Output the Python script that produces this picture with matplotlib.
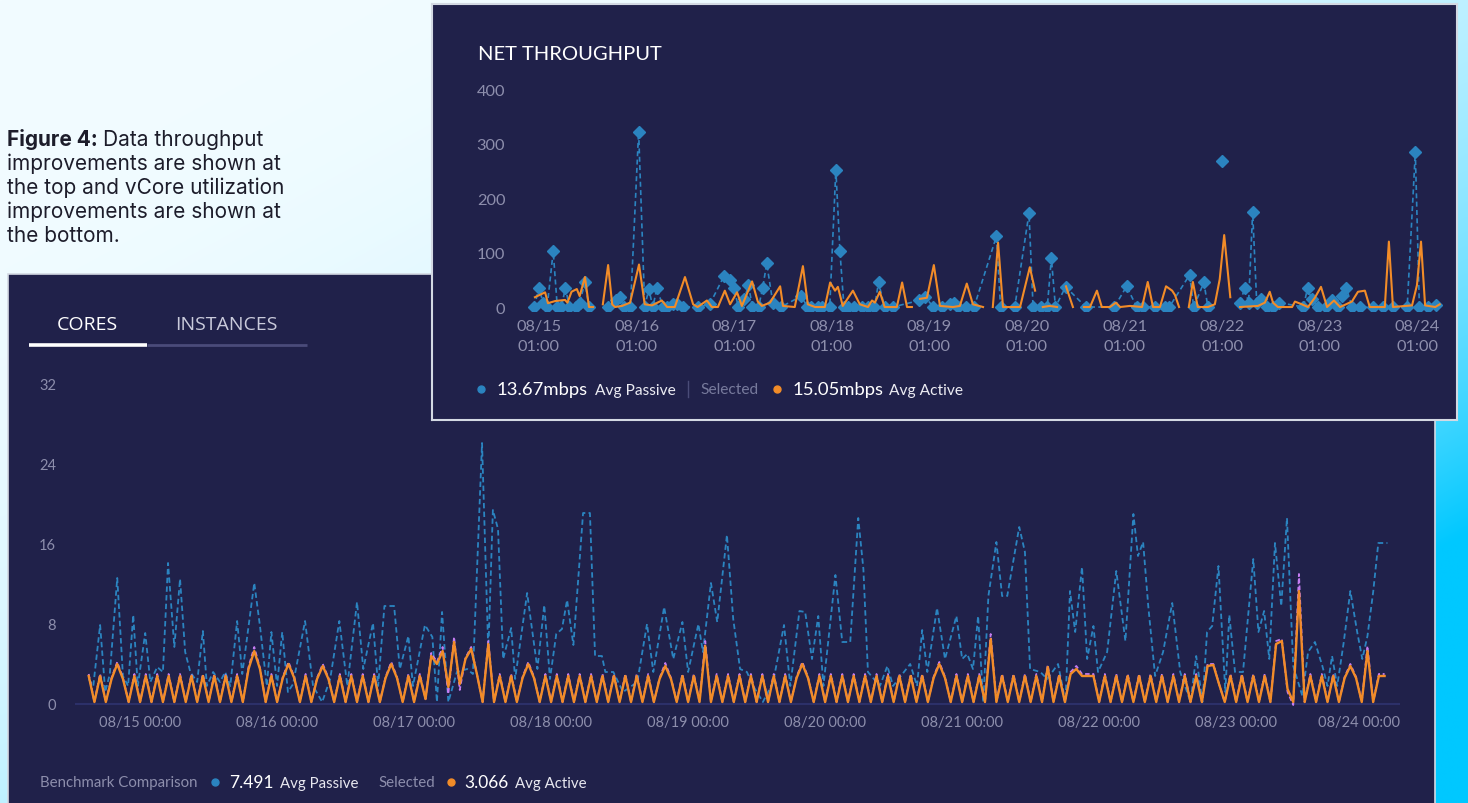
import numpy as np
import matplotlib.pyplot as plt
from matplotlib.patches import Rectangle
from matplotlib.transforms import ScaledTranslation

nan = np.nan
W, H = 1468, 804

NAVY = '#20214a'
BLUE = '#2b84c0'
ORANGE = '#f28c28'
PURPLE = '#c57cf2'
GRAY = '#8d8eac'
BORDER = '#d3d9e3'

plt.rcParams['font.family'] = ['Lato', 'DejaVu Sans']

# ---- NET THROUGHPUT (hours since 08/15 00:00) ----
TOP_TICK_HOURS = [1, 25, 49, 73, 97, 121, 145, 169, 193, 217]
TOP_TICK_LABELS = ['08/15\n01:00', '08/16\n01:00', '08/17\n01:00', '08/18\n01:00',
                   '08/19\n01:00', '08/20\n01:00', '08/21\n01:00', '08/22\n01:00',
                   '08/23\n01:00', '08/24\n01:00']
TOP_YTICKS = [0, 100, 200, 300, 400]

TOP_PASSIVE_H = [-0.2, 1, 2, 3, 4.5, 5.5, 6.5, 7.5, 8.5, 10, 11, 12.3, 13.3, 15,
                 18, 20, 21, 22, 23.5, 25.5, 27, 28, 29, 30, 31.5, 32.5, 34, 35, 36.5, 40,
                 43, 46.5, 48, 49, 50, 51.5, 52.5, 53.5, 55, 56, 57, 58.5, 60.5, 65.5, 67,
                 68, 69.5, 70.5, 72.5, 74, 75, 76, 77, 78.5, 80.5, 82, 83.5, 84.5, 86, 88,
                 94.5, 96, 98, 100, 102, 103, 104, 106, 108, 113.5, 114.5, 118, 121.5,
                 122.5, 124.5, 126, 127, 128, 130.5, 135.5, 142.5, 145.5, 148, 149.5,
                 152.5, 155, 156, 161, 162, 164.5, 165.5, 167, 169, 171, 173.5, 174.5,
                 175.5, 176.5, 177.5, 178.5, 180, 181.5, 183, 189, 190, 191, 192.5, 194.5,
                 196, 197.5, 198.5, 199.5, 201, 203, 206, 208.5, 211, 214.5, 216.5, 217.5,
                 219.5, 221.5]
TOP_PASSIVE_V = [0, 35, 8, 0, 102, 0, 0, 35, 0, 0, 8, 45, 0, nan,
                 0, 12, 18, 0, 0, 322, 0, 33, 0, 35, 0, 0, 5, 5, 0, 0, 5, 57, 50, 35, 0,
                 15, 40, 0, 0, 35, 80, 8, 0, 20, 0, 0, 0, 0, 0, 252, 103, 0, 0, 0, 0, 0,
                 0, 45, 0, 0, 12, 18, 0, 0, 5, 8, 0, 0, 0, 130, 0, 0, 172, 0, 0, 0, 90, 0,
                 37, 0, 0, 38, 0, 0, 0, 0, 0, 59, 0, 45, 0, nan, 267, nan, 8, 35, 8, 174,
                 8, 15, 0, 0, 8, 0, 35, 15, 0, 0, 12, 0, 20, 35, 0, 0, 0, 0, 0, 0, 284, 0,
                 0, 3]

TOP_ACTIVE_H = [0, 2.5, 3.2, 5, 7.4, 8, 9, 10.3, 11, 12.3, 13.3, 14.3, 15.5,
                16.7, 18, 19, 19.7, 21.4, 23.4, 25.6, 27, 28.8, 31.2, 32.5, 34.4, 36.9,
                38.9, 40, 42.3, 43.5, 45, 46.7, 48, 49.7, 50.9, 53.4, 54.8, 55.8, 57.8,
                60.3, 61, 63.9, 65.9, 67.1, 68.9, 71.3, 72.6, 73.8, 74.5, 75.7, 78.2,
                79.9, 81.9, 82.9, 83.6, 84.8, 86, 89, 90.3, 91.5, 92.7, 93.7,
                94.7, 96.4, 98.1, 99.6, 102.8, 104.5, 106.2, 107.7, 110.2, 111.4,
                112.6, 113.9, 115.1, 119.3, 121.7, 123, 124,
                124.9, 126.6, 128.4, 129.5,
                130.6, 132.3, 133.6,
                135, 136.5, 138.2, 139.4, 141.4, 142.9, 143.9, 146.3, 149.3, 150.7, 152,
                153.7, 155.2, 156.7, 157.4, 158.4, 159.6,
                160.8, 161.8, 163, 165.5, 167.2, 168.4, 169.5, 171, 172.2,
                173.4, 177.8, 179.5, 180.7, 181.5, 182.7, 186.2, 186.9, 188.6, 190.1,
                191.8, 193.3, 194.8, 196.5, 198, 200.9, 202.4, 204.1, 205.3, 209, 210,
                211, 215.7, 216.9, 217.9, 218.9, 221.4, 222.5]
TOP_ACTIVE_V = [18, 27, 7, 11, 13, 8, 28, 33, 20, 55, 0, 0, nan,
                5, 77, 5, 0, 2, 8, 78, 5, 3, 12, 0, 0, 55, 5, 0, 12, 0, 0, 30, 5, 27, 2,
                47, 10, 2, 8, 38, 2, 0, 75, 5, 0, 0, 45, 30, 37, 2, 30, 5, 0, 12, 8, 28,
                0, 0, 45, 0, 0, nan,
                15, 17, 77, 2, 0, 2, 43, 5, 0, nan,
                0, 118, 0, 0, 73, 30, nan,
                0, 2, 0, nan,
                38, 0, nan,
                0, 0, 30, 0, 0, 8, 0, 2, 0, 46, 0, 0, 38, 30, 22, 0, nan,
                0, 46, 0, 0, 5, 51, 132, 18, nan,
                0, 2, 8, 28, 8, 0, 0, 10, 5, 0, 17, 37, 0, 12, 0, 10, 28, 30, 0, 0, 120,
                0, 3, 40, 120, 3, 0, 5]

# ---- CORES (hours since 08/15 00:00) ----
BOT_TICK_HOURS = [0, 24, 48, 72, 96, 120, 144, 168, 192, 216]
BOT_TICK_LABELS = ['08/15 00:00', '08/16 00:00', '08/17 00:00', '08/18 00:00',
                   '08/19 00:00', '08/20 00:00', '08/21 00:00', '08/22 00:00',
                   '08/23 00:00', '08/24 00:00']
BOT_YTICKS = [0, 8, 16, 24, 32]

BOT_PASSIVE_H = [-9, -8.2, -7, -6.1, -5.3, -4, -3, -2.1, -1.2, -0.4,
                 0.9, 1.8, 3, 4, 4.9, 6, 7, 7.9, 8.8, 10,
                 11, 11.7, 12.8, 14, 14.9, 15.8, 17, 17.9, 20, 21,
                 22.2, 23, 24, 24.9, 25.9, 26.8, 28.9, 30.3, 31.9, 33.3,
                 34.9, 36.3, 38, 39.1, 40.8, 41.7, 42.8, 44.5, 45.5, 47,
                 47.8, 49.9, 51.2, 52, 52.9, 54, 55.5, 57.3, 58.3, 59.9,
                 61, 61.8, 62.7, 63.6, 65, 65.7, 67.8, 69.6, 70.8, 71.8,
                 72.9, 73.9, 74.8, 75.9, 77.6, 78.8, 79.7, 80.9, 81.5, 82.9,
                 84.6, 87.1, 88.8, 89.9, 91.8, 93.4, 95, 96, 97.8, 98.6,
                 100, 101.1, 102.8, 103.9, 105.1, 106.3, 107.4, 109.1, 110.9, 112.8,
                 113.9, 115.5, 116.5, 117.7, 118.8, 119.7, 121.8, 123, 124.4, 125.8,
                 126.7, 127.5, 129.6, 130.9, 131.9, 134.9, 136.1, 137, 137.9, 139.6,
                 141, 143, 144, 144.9, 145.9, 146.8, 147.7, 148.6, 150, 151,
                 151.9, 154, 155, 155.9, 157.7, 158.9, 160.8, 162.1, 162.9, 163.8,
                 165, 165.9, 167, 167.8, 169.4, 171, 172.6, 174, 174.8, 175.7,
                 176.6, 177.8, 179.2, 180.8, 182.2, 184, 185, 186.1, 186.9, 187.8,
                 188.9, 190.1, 190.8, 191.8, 193.2, 195, 195.9, 196.9, 197.8, 198.8,
                 199.9, 200.9, 202, 203.6, 204.6, 205.8, 207.1, 208, 208.8, 209.7,
                 210.8, 212, 213.2, 214.1, 215, 216, 216.9, 218.5]
BOT_PASSIVE_V = [2.5, 1.8, 7.9, 1.2, 3.0, 12.6, 2.8, 1.8, 8.9, 1.8,
                 7.1, 2.2, 3.7, 3.2, 14.1, 5.7, 12.5, 5.2, 3.2, 2.2,
                 7.3, 1.8, 3.2, 2.2, 3.2, 1.8, 8.3, 3.0, 12.1, 7.8,
                 1.8, 7.2, 1.8, 7.2, 1.2, 2.0, 8.3, 1.8, 0.2, 2.5,
                 8.3, 1.8, 10.2, 3.5, 8.1, 1.8, 9.8, 9.8, 3.5, 6.8,
                 1.8, 7.9, 6.7, 0.2, 9.2, 0.2, 3.2, 3.5, 3.0, 26.1,
                 5.2, 19.4, 17.5, 4.5, 7.6, 2.5, 11.1, 3.5, 9.9, 2.5,
                 7.0, 7.5, 10.4, 5.9, 19.1, 19.1, 4.8, 4.8, 3.2, 3.2,
                 1.2, 2.2, 8.0, 3.2, 9.7, 4.5, 8.2, 3.2, 8.0, 5.2,
                 12.1, 8.2, 16.9, 8.5, 3.5, 3.2, 1.8, 0.2, 2.2, 7.9,
                 1.8, 9.3, 9.2, 4.5, 8.8, 1.8, 12.9, 6.2, 6.2, 18.6,
                 13.5, 3.2, 1.8, 3.8, 1.8, 4.0, 1.8, 7.4, 3.2, 9.6,
                 4.5, 8.8, 4.5, 5.0, 3.5, 8.8, 0.2, 10.8, 16.2, 10.8,
                 10.8, 17.7, 15.2, 3.5, 3.2, 2.5, 4.0, 0.2, 11.3, 7.2,
                 13.7, 4.5, 7.8, 3.2, 5.2, 13.3, 6.3, 19.0, 14.8, 16.2,
                 9.8, 2.8, 5.2, 10.1, 3.2, 0.2, 4.8, 0.2, 7.2, 7.8,
                 13.8, 1.2, 8.9, 3.2, 3.2, 14.5, 7.2, 9.3, 4.5, 16.1,
                 9.8, 18.6, 3.8, 0.8, 5.2, 6.2, 3.8, 1.8, 4.8, 1.8,
                 6.0, 11.3, 7.2, 4.5, 6.8, 11.2, 16.1, 16.1]

# hourly samples, 08/14 15:00 .. 08/24 02:00
BOT_ACTIVE_H = np.arange(-9, 219)
BOT_ACTIVE_V = [2.8, 0.2, 2.8, 0.2, 2.5, 4.0, 2.5, 0.2, 2.8, 0.2, 2.8, 0.2,
                2.8, 0.2, 2.8, 0.2, 2.8, 0.2, 2.8, 0.2, 2.8, 0.2, 2.8, 0.2,
                2.8, 0.2, 2.8, 0.2, 3.5, 5.3, 3.5, 0.2, 2.8, 0.2, 2.6, 4.0,
                2.6, 0.2, 2.8, 0.2, 2.5, 3.8, 2.5, 0.2, 2.8, 0.2, 2.8, 0.2,
                2.8, 0.2, 2.8, 0.2, 2.6, 4.0, 2.6, 0.2, 2.8, 0.2, 2.8, 0.5,
                4.8, 4.0, 5.3, 1.7, 6.2, 2.0, 4.5, 5.5, 3.0, 0.2, 6.0, 0.2,
                2.8, 0.2, 2.8, 0.2, 2.6, 4.0, 2.6, 0.2, 2.8, 0.2, 2.8, 0.2,
                2.8, 0.2, 2.8, 0.2, 2.8, 0.2, 2.8, 0.2, 2.8, 0.2, 2.8, 0.2,
                2.8, 0.2, 2.8, 0.2, 2.5, 3.8, 2.5, 0.2, 2.8, 0.2, 2.8, 0.2,
                5.8, 0.2, 2.8, 0.2, 2.8, 0.2, 2.8, 0.2, 2.8, 0.2, 2.8, 0.2,
                2.8, 0.2, 2.8, 0.2, 2.6, 4.0, 2.6, 0.2, 2.8, 0.2, 2.8, 0.2,
                2.8, 0.2, 2.8, 0.2, 2.8, 0.2, 2.8, 0.2, 2.8, 0.2, 2.8, 0.2,
                2.8, 0.2, 2.8, 0.2, 2.6, 4.0, 2.6, 0.2, 2.8, 0.2, 2.8, 0.2,
                2.8, 0.2, 6.5, 0.2, 2.8, 0.2, 2.8, 0.2, 2.8, 0.2, 2.8, 0.2,
                3.7, 0.2, 2.8, 0.2, 3.0, 3.5, 2.8, 2.8, 2.8, 0.2, 2.8, 0.2,
                2.8, 0.2, 2.8, 0.2, 2.8, 0.2, 2.8, 0.2, 2.8, 0.2, 2.8, 0.2,
                2.8, 0.2, 2.8, 0.2, 3.8, 3.9, 2.0, 0.2, 2.8, 0.2, 2.8, 0.2,
                2.8, 0.2, 2.8, 0.2, 6.0, 6.3, 1.5, 0.2, 11.3, 0.2, 2.8, 0.2,
                2.8, 0.2, 2.8, 0.2, 2.6, 3.8, 2.6, 0.2, 5.3, 0.2, 2.8, 2.8]
BOT_BENCH_V = [3.0, 0.2, 3.0, 0.2, 2.6, 4.2, 2.6, 0.2, 3.0, 0.2, 3.0, 0.2,
               3.0, 0.2, 3.0, 0.2, 3.0, 0.2, 3.0, 0.2, 3.0, 0.2, 3.0, 0.2,
               3.0, 0.2, 3.0, 0.2, 3.7, 5.7, 3.6, 0.2, 3.0, 0.2, 2.7, 4.2,
               2.7, 0.2, 3.0, 0.2, 2.6, 4.0, 2.6, 0.2, 3.0, 0.2, 3.0, 0.2,
               3.0, 0.2, 3.0, 0.2, 2.7, 4.2, 2.7, 0.2, 3.0, 0.2, 3.0, 0.5,
               5.1, 4.2, 5.7, 1.0, 6.7, 1.4, 4.6, 5.7, 3.0, 0.2, 6.3, 0.2,
               3.0, 0.2, 3.0, 0.2, 2.7, 4.2, 2.7, 0.2, 3.0, 0.2, 3.0, 0.2,
               3.0, 0.2, 3.0, 0.2, 3.0, 0.2, 3.0, 0.2, 3.0, 0.2, 3.0, 0.2,
               3.0, 0.2, 3.0, 0.2, 2.6, 4.1, 2.6, 0.2, 3.0, 0.2, 3.0, 0.2,
               6.3, 0.2, 3.0, 0.2, 3.0, 0.2, 3.0, 0.2, 3.0, 0.2, 3.0, 0.2,
               3.0, 0.2, 3.0, 0.2, 2.7, 4.2, 2.7, 0.2, 3.0, 0.2, 3.0, 0.2,
               3.0, 0.2, 3.0, 0.2, 3.0, 0.2, 3.0, 0.2, 3.0, 0.2, 3.0, 0.2,
               3.0, 0.2, 3.0, 0.2, 2.7, 4.2, 2.7, 0.2, 3.0, 0.2, 3.0, 0.2,
               3.0, 0.2, 7.0, 0.2, 3.0, 0.2, 3.0, 0.2, 3.0, 0.2, 3.0, 0.2,
               3.9, 0.2, 3.0, 0.2, 3.2, 3.8, 3.0, 3.0, 3.0, 0.2, 3.0, 0.2,
               3.0, 0.2, 3.0, 0.2, 3.0, 0.2, 3.0, 0.2, 3.0, 0.2, 3.0, 0.2,
               3.0, 0.2, 3.0, 0.2, 4.0, 4.0, 2.0, 0.2, 3.0, 0.2, 3.0, 0.2,
               3.0, 0.2, 3.0, 0.2, 6.3, 6.5, 1.2, -0.1, 13.0, 0.2, 3.0, 0.2,
               3.0, 0.2, 3.0, 0.2, 2.7, 4.0, 2.7, 0.2, 5.8, 0.2, 3.0, 3.0]


def box(x0, y0, x1, y1):
    # pixel box (top-left origin) -> figure fraction rect
    return [x0 / W, 1 - y1 / H, (x1 - x0) / W, (y1 - y0) / H]


fig = plt.figure(figsize=(W / 100, H / 100), dpi=100)

# background gradient + lower panel
bg = fig.add_axes([0, 0, 1, 1], zorder=0)
gy, gx = np.mgrid[0:1:200j, 0:1:300j]
t = np.clip(0.6 * gx + 0.6 * gy, 0, 1) ** 3
light = np.array([242, 252, 255]) / 255
cyan = np.array([0, 200, 255]) / 255
bg.imshow(light + (cyan - light) * t[..., None], extent=(0, W, H, 0),
          aspect='auto', interpolation='bilinear')
bg.set_xlim(0, W)
bg.set_ylim(H, 0)
bg.axis('off')
bg.add_patch(Rectangle((7.5, 275), 1427.5, 560, facecolor=NAVY,
                       edgecolor=BORDER, lw=1.2))

# caption
cap = dict(family=['Inter', 'DejaVu Sans'], fontsize=15, color='#1d1d2b', va='baseline')
head = bg.text(7, 146, 'Figure 4:', fontweight='bold', **cap)
renderer = fig.canvas.get_renderer()
head_end = head.get_window_extent(renderer).x1
bg.text(head_end + 5, 146, 'Data throughput', **cap)
for i, line in enumerate(['improvements are shown at', 'the top and vCore utilization',
                          'improvements are shown at', 'the bottom.']):
    bg.text(7, 170 + 24 * i, line, **cap)

# tabs
tab = dict(ha='center', va='center', fontsize=14, family=['Open Sans', 'DejaVu Sans'])
bg.text(87, 325, 'CORES', color='white', **tab)
bg.text(226, 325, 'INSTANCES', color='#c9cadb', **tab)
bg.plot([147, 307], [346, 346], color='#4a4b7a', lw=2, solid_capstyle='butt')
bg.plot([29, 147], [346, 346], color='white', lw=2.6, solid_capstyle='butt')

# lower legend
bg.text(40, 783, 'Benchmark Comparison', fontsize=10.8, color=GRAY, va='center')
bg.plot(215, 783, 'o', ms=5, color=BLUE)
bg.text(229, 783, '7.491', fontsize=12.5, color='white', va='center')
bg.text(280, 784, 'Avg Passive', fontsize=10.8, color='#e8e8f0', va='center')
bg.text(378, 783, 'Selected', fontsize=10.8, color=GRAY, va='center')
bg.plot(451, 783, 'o', ms=5, color=ORANGE)
bg.text(464, 783, '3.066', fontsize=12.5, color='white', va='center')
bg.text(515, 784, 'Avg Active', fontsize=10.8, color='#e8e8f0', va='center')

# lower chart
ba = fig.add_axes(box(75, 385, 1400, 708), zorder=1)
ba.patch.set_alpha(0)
ba.axhline(0, color='#2c3069', lw=1.5, zorder=0)
ba.plot(BOT_PASSIVE_H, BOT_PASSIVE_V, color=BLUE, lw=1.3, ls=(0, (3, 1.8)))
ba.plot(BOT_ACTIVE_H, BOT_BENCH_V, color=PURPLE, lw=1.3, ls=(0, (2.5, 1.5)))
ba.plot(BOT_ACTIVE_H, BOT_ACTIVE_V, color=ORANGE, lw=1.7, solid_joinstyle='round')
ba.set_xlim(-11.4, 220.7)
ba.set_ylim(-0.3, 32)
ba.set_yticks(BOT_YTICKS)
ba.set_xticks(BOT_TICK_HOURS)
ba.set_xticklabels(BOT_TICK_LABELS)
ba.tick_params(length=0, labelsize=10.5, labelcolor=GRAY)
ba.tick_params(axis='y', pad=13.5)
ba.tick_params(axis='x', pad=6)
last = ba.get_xticklabels()[-1]
last.set_transform(last.get_transform() + ScaledTranslation(-0.14, 0, fig.dpi_scale_trans))
for s in ba.spines.values():
    s.set_visible(False)

# upper panel
tp = fig.add_axes(box(432, 5, 1457, 421), zorder=2)
tp.set_facecolor(NAVY)
tp.set_xlim(432, 1457)
tp.set_ylim(421, 5)
tp.set_xticks([])
tp.set_yticks([])
for s in tp.spines.values():
    s.set_color(BORDER)
    s.set_linewidth(1.5)
tp.text(478, 54, 'NET THROUGHPUT', fontsize=14.5, color='white', va='center')
tp.plot(481, 390, 'o', ms=5, color=BLUE)
tp.text(497, 390, '13.67mbps', fontsize=13.3, color='white', va='center')
tp.text(595, 391, 'Avg Passive', fontsize=11.2, color='#ececf3', va='center')
tp.plot([688, 688], [382, 398], color='#4a4c78', lw=1)
tp.text(700, 390, 'Selected', fontsize=11.2, color='#777a9c', va='center')
tp.plot(777, 390, 'o', ms=5, color=ORANGE)
tp.text(793, 390, '15.05mbps', fontsize=13.3, color='white', va='center')
tp.text(889, 391, 'Avg Active', fontsize=11.2, color='#ececf3', va='center')

# upper chart
ta = fig.add_axes(box(515, 90, 1445, 312), zorder=3)
ta.patch.set_alpha(0)
ta.plot(TOP_PASSIVE_H, TOP_PASSIVE_V, color=BLUE, lw=1.2, ls=(0, (3, 2)),
        marker='D', ms=6, mfc=BLUE, mec=BLUE)
ta.plot(TOP_ACTIVE_H, TOP_ACTIVE_V, color=ORANGE, lw=1.5, solid_joinstyle='round')
ta.set_xlim(-4.9, 223.8)
ta.set_ylim(-7.3, 400)
ta.set_yticks(TOP_YTICKS)
ta.set_xticks(TOP_TICK_HOURS)
ta.set_xticklabels(TOP_TICK_LABELS, linespacing=1.5)
ta.tick_params(length=0, labelsize=11.8, labelcolor=GRAY)
ta.tick_params(axis='y', pad=7)
ta.tick_params(axis='x', pad=6)
for s in ta.spines.values():
    s.set_visible(False)

fig.savefig('out.png', dpi=100)
